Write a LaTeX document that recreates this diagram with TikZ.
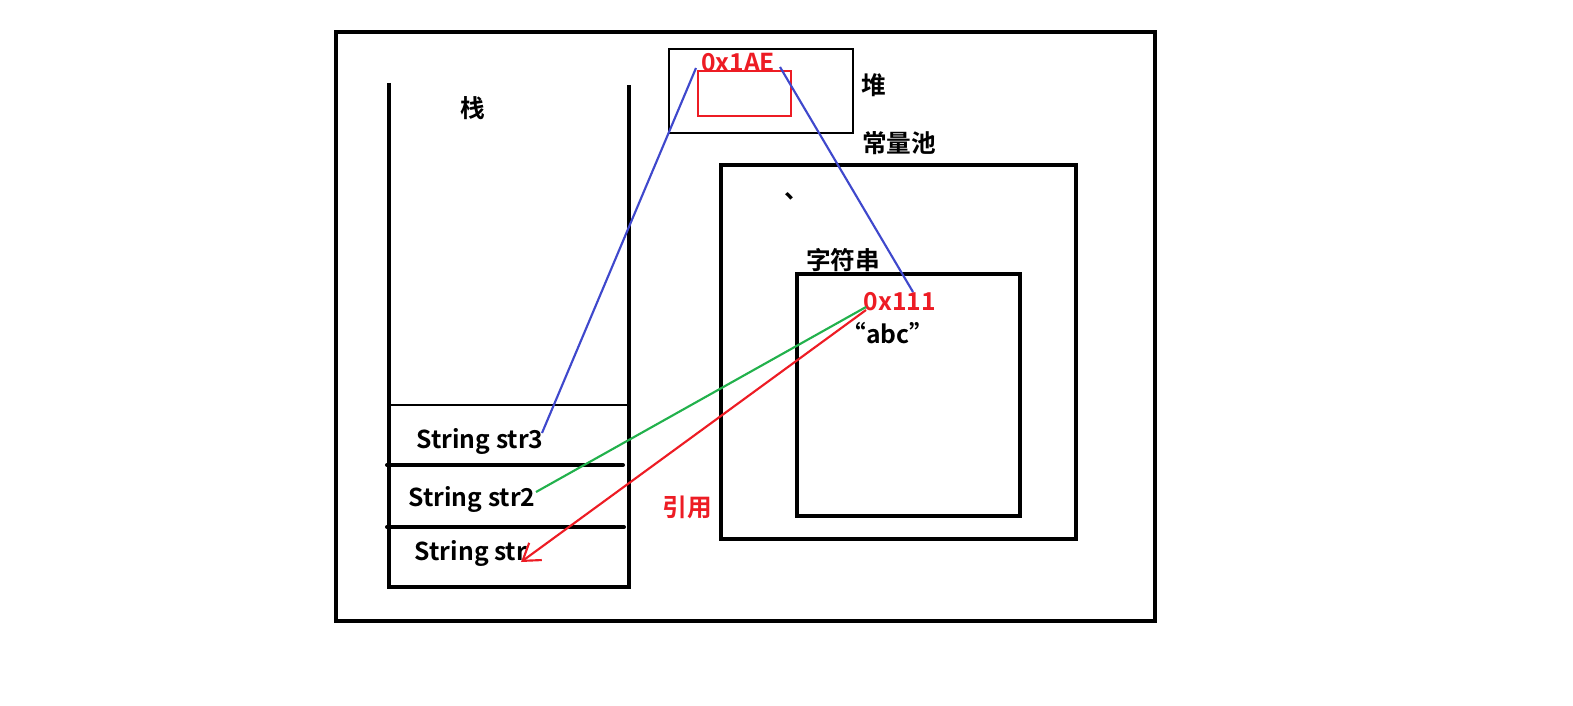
\documentclass[tikz,border=0pt]{standalone}
\usepackage{fontspec}
\setmainfont{Noto Sans CJK SC}[BoldFont={* Bold}]
\newfontfamily\cjkb{Noto Sans CJK SC Bold}
\usetikzlibrary{arrows.meta}
\definecolor{mblue}{RGB}{63,72,204}
\definecolor{mgreen}{RGB}{34,177,76}
\definecolor{mred}{RGB}{237,28,36}
\tikzset{
  thick4/.style={line width=3pt},
  thick3/.style={line width=2.2pt},
  lbl/.style={font=\cjkb\fontsize{18.5}{18.5}\selectfont, inner sep=0pt, text=black},
  rlbl/.style={font=\cjkb\fontsize{18.5}{18.5}\selectfont, inner sep=0pt, text=mred},
  conn/.style={line width=1.6pt},
}
\begin{document}
\begin{tikzpicture}[x=0.75pt,y=-0.75pt]
\useasboundingbox (0,0) rectangle (1573,706);
% outer frame
\draw[thick4] (336,32) rectangle (1155,621);
% stack
\draw[thick4] (389,83) -- (389,587) -- (629,587) -- (629,85);
\draw[line width=1.5pt] (389,405) -- (629,405);
\draw[thick4, line cap=round] (387,465) -- (623,465);
\draw[thick4, line cap=round] (387,527) -- (624,527);
\node[lbl] (zhan) at (473,108) {栈};
\node[lbl] (s3) at (480,441) {String str3};
\node[lbl] (s2) at (472,499) {String str2};
\node[lbl] (s1) at (471,553) {String str};
\coordinate (s3e) at (542,433);
\coordinate (s2e) at (536,492);
\coordinate (s1e) at (521,562);
% heap
\draw[thick3] (669,49) rectangle (853,133);
\draw[mred, line width=1.5pt] (698,71) rectangle (791,116);
\node[rlbl] (addr1) at (738,63) {0x1AE};
\coordinate (h1) at (696,68);
\coordinate (h2) at (780,67);
\node[lbl] (dui) at (874,85) {堆};
\node[lbl] (pool) at (899,143) {常量池};
% pool
\draw[thick4] (721,165) rectangle (1076,539);
\node[lbl] (mark) at (797,196) {、};
\node[lbl] (zfc) at (843,260) {字符串};
\draw[thick4] (797,274) rectangle (1020,516);
\node[rlbl] (addr2) at (900,302) {0x111};
\node[lbl] (abc) at (888,333) {“abc”};
\coordinate (a2t) at (913,292);
\coordinate (a2l) at (866,307);
\coordinate (a2r) at (866,310);
% connectors
\draw[mblue, conn] (h1) -- (s3e);
\draw[mblue, conn] (h2) -- (a2t);
\draw[mgreen, conn] (a2l) -- (s2e);
\draw[mred, conn, -{Straight Barb[length=12pt,width=16pt,line width=1.6pt]}] (a2r) -- (s1e);
\node[rlbl] (yy) at (687,507) {引用};
\end{tikzpicture}
\end{document}
